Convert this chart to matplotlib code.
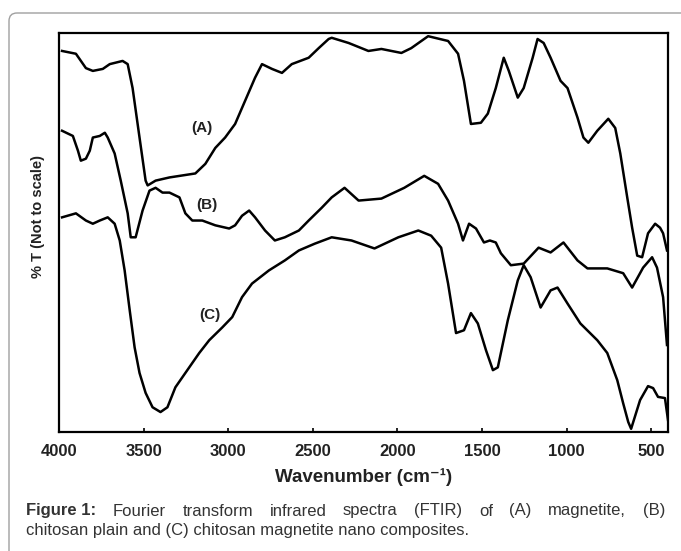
import matplotlib
matplotlib.use('Agg')
import matplotlib.pyplot as plt
import numpy as np
from matplotlib.patches import FancyBboxPatch

plt.rcParams['font.family'] = ['Liberation Sans', 'DejaVu Sans']

# FTIR traces (wavenumber in cm-1, %T in arbitrary units)
wn_a = [3982, 3900, 3841, 3800, 3741, 3700, 3624, 3594, 3565, 3524, 3488, 3476, 3429, 3347,
        3194, 3135, 3076, 3018, 2959, 2900, 2841, 2800, 2741, 2682, 2624, 2524, 2465, 2406,
        2388, 2288, 2171, 2094, 1976, 1918, 1818, 1700, 1641, 1606, 1565, 1506, 1465, 1418,
        1371, 1341, 1288, 1253, 1200, 1171, 1135, 1094, 1035, 994, 935, 900, 871, 818, 753,
        712, 682, 641, 612, 582, 553, 518, 476, 447, 429, 406]
t_a = [95.5, 94.8, 91.2, 90.5, 91.0, 92.2, 93.0, 92.2, 86.2, 73.8, 63.0, 61.8, 63.0, 63.8,
       64.8, 67.2, 71.2, 73.8, 77.2, 83.0, 88.8, 92.2, 91.0, 90.0, 92.2, 93.8, 96.2, 98.5,
       98.8, 97.5, 95.5, 96.0, 95.0, 96.2, 99.2, 98.0, 94.8, 88.0, 77.2, 77.5, 79.8, 86.2,
       93.8, 90.5, 83.8, 86.2, 93.8, 98.5, 97.5, 93.8, 88.0, 86.2, 78.8, 73.8, 72.5, 75.5, 78.5,
       76.2, 69.8, 58.8, 51.2, 44.2, 43.8, 49.8, 52.2, 51.2, 49.8, 45.5]

wn_b = [3982, 3918, 3888, 3871, 3841, 3818, 3800, 3759, 3729, 3712, 3671, 3635, 3594, 3576,
        3547, 3506, 3465, 3429, 3388, 3347, 3288, 3253, 3212, 3153, 3076, 2994, 2959, 2918,
        2876, 2841, 2782, 2724, 2665, 2582, 2524, 2447, 2388, 2312, 2229, 2094, 1959, 1841,
        1759, 1700, 1641, 1612, 1576, 1535, 1488, 1453, 1418, 1388, 1329, 1253, 1165, 1094,
        1018, 935, 876, 759, 665, 612, 547, 494, 465, 429, 406]
t_b = [75.5, 74.2, 70.5, 68.0, 68.5, 70.5, 73.8, 74.2, 75.0, 73.8, 69.8, 63.0, 54.8, 48.8,
       48.8, 55.5, 60.5, 61.2, 60.0, 60.0, 58.8, 54.8, 53.0, 53.0, 51.8, 51.0, 51.8, 54.2,
       55.5, 53.8, 50.5, 48.0, 48.8, 50.5, 53.0, 56.2, 58.8, 61.2, 58.0, 58.5, 61.2, 64.2,
       62.2, 58.0, 52.2, 48.0, 52.2, 51.0, 47.5, 48.0, 47.5, 44.8, 41.8, 42.2, 46.2, 45.0,
       47.5, 43.0, 41.0, 41.0, 39.8, 36.2, 41.2, 43.8, 41.2, 33.8, 21.8]

wn_c = [3982, 3900, 3841, 3800, 3759, 3712, 3671, 3641, 3612, 3582, 3553, 3524, 3488, 3447,
        3400, 3359, 3312, 3253, 3171, 3112, 3035, 2976, 2918, 2859, 2759, 2665, 2582, 2488,
        2388, 2271, 2135, 1994, 1876, 1800, 1741, 1700, 1653, 1606, 1565, 1524, 1476, 1435,
        1406, 1347, 1288, 1253, 1212, 1153, 1094, 1053, 994, 918, 818, 759, 700, 665, 635,
        618, 565, 518, 488, 459, 418, 400]
t_c = [53.8, 54.8, 53.0, 52.2, 53.0, 53.8, 52.2, 48.0, 40.5, 30.5, 21.2, 14.8, 9.8, 6.2,
       5.0, 6.2, 11.2, 14.8, 19.8, 23.0, 26.2, 28.8, 33.8, 37.2, 40.5, 43.0, 45.5, 47.2,
       48.8, 48.0, 46.0, 48.8, 50.5, 49.2, 46.2, 37.2, 24.8, 25.5, 29.8, 27.2, 20.5, 15.5,
       16.2, 28.0, 38.0, 41.8, 38.8, 31.2, 35.5, 36.2, 32.2, 27.2, 23.0, 19.8, 13.0, 7.2, 2.5,
       0.8, 8.0, 11.5, 11.0, 8.8, 8.5, 3.0]

labels = ['(A)', '(B)', '(C)']
label_pos = [(3153, 76.2), (3124, 56.8), (3106, 29.2)]
x_ticks = [4000, 3500, 3000, 2500, 2000, 1500, 1000, 500]

fig = plt.figure(figsize=(6.81, 5.51), dpi=100)
ax = fig.add_axes([59 / 681, 1 - 432 / 551, 609 / 681, 399 / 551])

for wn, t in [(wn_a, t_a), (wn_b, t_b), (wn_c, t_c)]:
    ax.plot(wn, t, color='black', lw=1.8, solid_joinstyle='round')

for lab, (x, y) in zip(labels, label_pos):
    ax.text(x, y, lab, fontsize=11, fontweight='bold', color='#222222', ha='center', va='center')

ax.set_xlim(3982, 400)
ax.set_ylim(0, 100)
ax.set_xticks(x_ticks)
ax.set_yticks([])
ax.tick_params(axis='x', direction='in', length=3, width=1.2, pad=9,
               labelsize=12, colors='black', labelcolor='#222222')
for lbl in ax.get_xticklabels():
    lbl.set_fontweight('bold')
for sp in ax.spines.values():
    sp.set_linewidth(1.6)

ax.set_xlabel('Wavenumber (cm\u207b\u00b9)', fontsize=13.5, fontweight='bold',
              color='#222222', labelpad=6)
fig.text(38 / 681, 1 - 216 / 551, '% T (Not to scale)', rotation=90, fontsize=10.5,
         fontweight='bold', color='#222222', ha='center', va='center')

# rounded frame around the figure
fig.patches.append(FancyBboxPatch((0.09, -0.3), 7.2, 5.68, boxstyle='round,pad=0,rounding_size=0.08',
                                  transform=fig.dpi_scale_trans, fill=False, ec='#a0a0a0', lw=1.0))

# caption, first line justified
cap_color = '#333333'
line1 = ['Figure 1:', 'Fourier', 'transform', 'infrared', 'spectra', '(FTIR)', 'of', '(A)',
         'magnetite,', '(B)']
renderer = fig.canvas.get_renderer()
texts = []
for i, w in enumerate(line1):
    bold = i == 0
    tt = fig.text(0, 1 - 511 / 551, w, fontsize=12, color=cap_color,
                  fontweight='bold' if bold else 'normal', va='center', ha='left')
    texts.append(tt)
widths = [tt.get_window_extent(renderer).width for tt in texts]
x0, x1 = 26, 665
gap = (x1 - x0 - sum(widths)) / (len(texts) - 1)
x = x0
for tt, w in zip(texts, widths):
    tt.set_x(x / 681)
    x += w + gap
fig.text(26 / 681, 1 - 530 / 551, 'chitosan plain and (C) chitosan magnetite nano composites.',
         fontsize=12, color=cap_color, va='center', ha='left')

fig.savefig('out.png', dpi=100)
